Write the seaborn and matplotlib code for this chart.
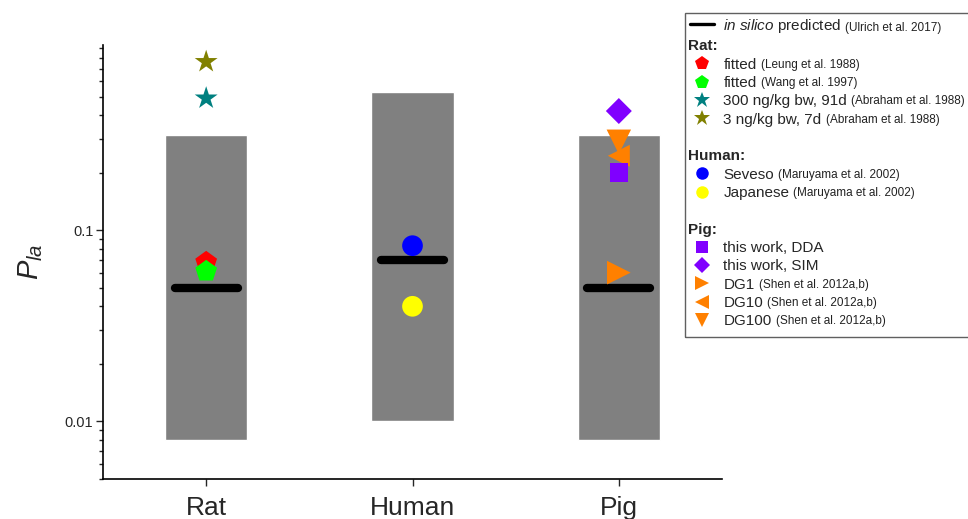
import numpy as np
import pandas as pd
import matplotlib
matplotlib.use('Agg')
import matplotlib.pyplot as plt
import seaborn as sns
from matplotlib.lines import Line2D
from matplotlib.patches import Rectangle
from matplotlib.ticker import LogLocator, NullFormatter, FixedLocator, FixedFormatter

# ---- data ----
species = ['Rat', 'Human', 'Pig']
range_low = [0.008, 0.01, 0.008]
range_high = [0.315, 0.53, 0.315]
insilico = [0.05, 0.07, 0.05]

point_keys = ['Leung', 'Wang', 'Abr300', 'Abr3', 'Seveso', 'Japanese',
              'SIM', 'DG100', 'DG10', 'DG1', 'DDA']
point_species = ['Rat', 'Rat', 'Rat', 'Rat', 'Human', 'Human',
                 'Pig', 'Pig', 'Pig', 'Pig', 'Pig']
point_values = [0.068, 0.061, 0.49, 0.76, 0.083, 0.04,
                0.42, 0.29, 0.245, 0.06, 0.20]

colors = {'Leung': '#FF0000', 'Wang': '#00FF00', 'Abr300': '#008080', 'Abr3': '#808000',
          'Seveso': '#0000FF', 'Japanese': '#FFFF00', 'DDA': '#8000FF', 'SIM': '#8000FF',
          'DG1': '#FF8000', 'DG10': '#FF8000', 'DG100': '#FF8000'}
markers = {'Leung': 'p', 'Wang': 'p', 'Abr300': '*', 'Abr3': '*',
           'Seveso': 'o', 'Japanese': 'o', 'DDA': 's', 'SIM': 'D',
           'DG1': '>', 'DG10': '<', 'DG100': 'v'}
sizes = {'Leung': 270, 'Wang': 270, 'Abr300': 300, 'Abr3': 300,
         'Seveso': 222, 'Japanese': 222, 'DDA': 180, 'SIM': 175,
         'DG1': 290, 'DG10': 250, 'DG100': 310}

legend_main = ['fitted', 'fitted', '300 ng/kg bw, 91d', '3 ng/kg bw, 7d',
               'Seveso', 'Japanese',
               'this work, DDA', 'this work, SIM', 'DG1', 'DG10', 'DG100']
legend_refs = ['(Leung et al. 1988)', '(Wang et al. 1997)', '(Abraham et al. 1988)',
               '(Abraham et al. 1988)', '(Maruyama et al. 2002)', '(Maruyama et al. 2002)',
               '', '', '(Shen et al. 2012a,b)', '(Shen et al. 2012a,b)', '(Shen et al. 2012a,b)']
legend_keys = ['Leung', 'Wang', 'Abr300', 'Abr3', 'Seveso', 'Japanese',
               'DDA', 'SIM', 'DG1', 'DG10', 'DG100']
legend_groups = ['Rat:', 'Human:', 'Pig:']

pts = pd.DataFrame({'species': point_species, 'value': point_values, 'key': point_keys})

sns.set_style('ticks')
plt.rcParams['font.family'] = ['Liberation Sans', 'DejaVu Sans']
plt.rcParams['mathtext.fontset'] = 'custom'
plt.rcParams['mathtext.rm'] = 'Liberation Sans'
plt.rcParams['mathtext.it'] = 'Liberation Sans:italic'

fig = plt.figure(figsize=(9.68, 5.19), dpi=100)
ax = fig.add_axes([103 / 968, 1 - 479 / 519, 619 / 968, 434 / 519])

xpos = np.arange(len(species))
ax.bar(species, np.array(range_high) - np.array(range_low), bottom=range_low,
       width=0.4, color='#808080', zorder=1)
ax.hlines(insilico, xpos - 0.152, xpos + 0.152, colors='black', linewidth=6,
          capstyle='round', zorder=2)
sns.scatterplot(data=pts, x='species', y='value', hue='key', style='key', size='key',
                palette=colors, markers=markers, sizes=sizes, linewidth=0,
                legend=False, ax=ax, zorder=3)

ax.set_yscale('log')
ax.set_ylim(0.005, 0.93)
ax.set_xlim(-0.5, 2.5)
ax.yaxis.set_major_locator(FixedLocator([0.01, 0.1]))
ax.yaxis.set_major_formatter(FixedFormatter(['0.01', '0.1']))
ax.yaxis.set_minor_locator(LogLocator(base=10, subs=np.arange(2, 10)))
ax.yaxis.set_minor_formatter(NullFormatter())
ax.set_xticks(xpos)
ax.set_xticklabels(species, fontsize=19)
ax.tick_params(axis='y', which='major', labelsize=10.5, length=5, width=1, direction='out', pad=2)
ax.tick_params(axis='y', which='minor', length=3, width=1, direction='out')
ax.tick_params(axis='x', which='major', length=5, width=1, direction='out', pad=7)
ax.set_xlabel('')
ax.set_ylabel(r'$P_{la}$', fontsize=21, labelpad=14)
for s in ['top', 'right']:
    ax.spines[s].set_visible(False)
for s in ['left', 'bottom']:
    ax.spines[s].set_linewidth(1.2)
    ax.spines[s].set_color('black')

# ---- legend ----
blank = Line2D([], [], linestyle='none')
handles = [Line2D([], [], color='black', linewidth=2.4)]
labels = [r'$\it{in\ silico}$ predicted']
refs = ['(Ulrich et al. 2017)']
header_rows = {}
group_members = [legend_keys[0:4], legend_keys[4:6], legend_keys[6:]]
lm = dict(zip(legend_keys, legend_main))
lr = dict(zip(legend_keys, legend_refs))
leg_ms = {'p': 10, '*': 12, 'o': 9, 's': 8, 'D': 8, '>': 10, '<': 10, 'v': 10}
for gi, (g, members) in enumerate(zip(legend_groups, group_members)):
    if gi > 0:
        handles.append(blank); labels.append(' '); refs.append('')
    header_rows[len(handles)] = g
    handles.append(blank); labels.append(' '); refs.append('')
    for k in members:
        handles.append(Line2D([], [], linestyle='none', marker=markers[k], color=colors[k],
                              markeredgewidth=0, markersize=leg_ms[markers[k]]))
        labels.append(lm[k]); refs.append(lr[k])

leg = fig.legend(handles, labels, loc='upper left', bbox_to_anchor=(686 / 968, 1 - 13 / 519),
                 frameon=False, fontsize=11, handlelength=1.6, handletextpad=0.6,
                 labelspacing=0.285, borderpad=0.25, borderaxespad=0)
fig.add_artist(Rectangle((685 / 968, 1 - 337 / 519), 0.4, (337 - 13) / 519,
                         transform=fig.transFigure, fill=False, edgecolor='#606060',
                         linewidth=1.0))

fig.canvas.draw()
inv = fig.transFigure.inverted()
for i, t in enumerate(leg.get_texts()):
    bb = t.get_window_extent()
    if i in header_rows:
        x0, y0 = inv.transform((688, bb.y0))
        fig.text(x0, y0, header_rows[i], fontsize=11, fontweight='bold', va='bottom', ha='left')
    elif refs[i]:
        x1, y1 = inv.transform((bb.x1 + 4, bb.y0 + 1))
        fig.text(x1, y1, refs[i], fontsize=8.5, va='bottom', ha='left', color='#222222')

fig.savefig('out.png', dpi=100)
